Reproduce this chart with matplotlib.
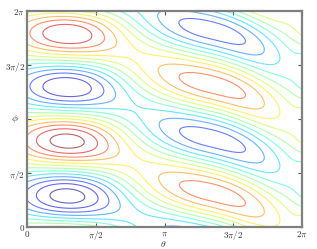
import numpy as np
import matplotlib
matplotlib.use("Agg")
import matplotlib.pyplot as plt

plt.rcParams['mathtext.fontset'] = 'cm'
plt.rcParams['font.family'] = 'DejaVu Serif'

# wave groups (theta, phi in units of pi)
amp = [0.91, 0.69, 0.30]
center = [0.29, 1.31, 2.08]
width_left = [1.37, 2.0, 0.35]    # radians
width_right = [1.37, 1.77, 0.35]
shape_left = [2.0, 2.0, 2.0]      # exponent of the envelope
shape_right = [2.0, 2.8, 2.0]
ridge_phi = [0.80, 0.33, -0.06]   # phi of the maximum at the group centre
ridge_slope = [0.0, -0.28, 0.0]   # d(phi)/d(theta) along the ridge
ridge_bend = [0.0, -0.13, 0.0]    # extra bend right of the centre
# small 2pi-periodic part, stronger lower-left than upper-left
asym_amp = 0.065
asym_phase = 1.05

levels = [-0.9, -0.75, -0.6, -0.45, -0.3, -0.15, 0.0, 0.15, 0.3, 0.45, 0.6, 0.75, 0.9]
ticks = [0, np.pi/2, np.pi, 3*np.pi/2, 2*np.pi]
xlabels = ['$0$', r'$\pi/2$', r'$\pi$', r'$3\pi/2$', r'$2\pi$']
ylabels = ['$0$', r'$\pi/2$', '', r'$3\pi/2$', r'$2\pi$']

th = np.linspace(0, 2*np.pi, 500)
ph = np.linspace(0, 2*np.pi, 500)
TH, PH = np.meshgrid(th, ph)

Z = np.zeros_like(TH)
groups = zip(amp, center, width_left, width_right, shape_left, shape_right,
             ridge_phi, ridge_slope, ridge_bend)
for a, c, wl, wr, pl, pr_, rp, s, b in groups:
    d = TH - c*np.pi
    w = np.where(d < 0, wl, wr)
    p = np.where(d < 0, pl, pr_)
    env = a*np.exp(-np.abs(d/w)**p)
    ridge = rp*np.pi + s*d + b*np.clip(d, 0, None)**2
    Z += env*np.cos(2*(PH - ridge))
Z += asym_amp*np.exp(-((TH - center[0]*np.pi)/width_left[0])**2)*np.cos(PH - asym_phase*np.pi)

fig = plt.figure(figsize=(3.17, 2.49), dpi=100)
ax = fig.add_axes([27/317, 1-227/249, 275/317, 216/249])
ax.contour(TH, PH, Z, levels=levels, cmap='jet', vmin=-0.9, vmax=0.9,
           linewidths=0.8, alpha=0.6)

ax.set_xlim(0, 2*np.pi)
ax.set_ylim(0, 2*np.pi)
ax.set_xticks(ticks)
ax.set_xticklabels(xlabels)
ax.set_yticks(ticks)
ax.set_yticklabels(ylabels)
ax.tick_params(direction='in', length=3, width=0.8, color='#555555',
               labelsize=6.5, labelcolor='#333333', top=True, right=True, pad=1.5)
for sp in ax.spines.values():
    sp.set_color('#808080')
    sp.set_linewidth(1.6)

fig.text(163/317, 1-244/249, r'$\theta$', fontsize=7, color='#333333',
         ha='center', va='center')
fig.text(15/317, 1-119/249, r'$\phi$', fontsize=7, color='#333333',
         ha='center', va='center')

fig.savefig('out.png', dpi=100)
